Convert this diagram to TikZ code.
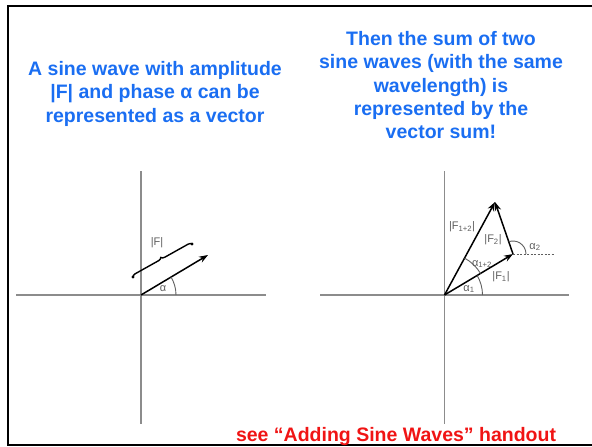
\documentclass[tikz,border=0pt]{standalone}
\usepackage{fontspec}
\setmainfont{Liberation Sans}
\usepackage{tikz}
\usetikzlibrary{arrows.meta,angles,calc,decorations.pathreplacing}
\definecolor{slideblue}{HTML}{1A6EF2}
\definecolor{slidered}{HTML}{F01414}
\definecolor{axisgray}{HTML}{8C8C8C}
\definecolor{labelgray}{HTML}{5E5E5E}

\begin{document}
\begin{tikzpicture}[
  x=1pt, y=1pt,
  title/.style={
    align=center,
    text=slideblue,
    inner sep=0pt,
    font=\fontsize{19.5}{23.4}\selectfont\bfseries
  },
  note/.style={
    text=slidered,
    inner sep=0pt,
    font=\fontsize{19.5}{23.4}\selectfont\bfseries
  },
  axis/.style={draw=axisgray, line width=1.7pt},
  vec/.style={-{Stealth[length=9pt,width=6.5pt]}, line width=1.5pt, draw=black},
  arcline/.style={draw=labelgray, line width=0.9pt},
  lbl/.style={text=labelgray, inner sep=0.5pt, font=\fontsize{11}{12}\selectfont}
]

\useasboundingbox (0,0) rectangle (592,-447);
\draw[line width=2pt] (8,-6) rectangle (600,-445);

% titles
\node[title, anchor=north] (single) at (155,-61) {A sine wave with amplitude\\|F| and phase α can be\\represented as a vector};
\node[title, anchor=north] (sum) at (441,-31) {Then the sum of two\\sine waves (with the same\\wavelength) is\\represented by the\\vector sum!};
\node[note, anchor=base] (handout) at (396,-441) {see “Adding Sine Waves” handout};

% one vector
\coordinate (O) at (141,-295);
\coordinate (F) at (208,-255);
\coordinate (Ox) at (266,-295);
\draw[axis] (141,-171) -- (141,-424);
\draw[axis] (16,-295) -- (Ox);
\draw[vec] (O) -- (F);
\pic[arcline, angle radius=35pt] {angle=Ox--O--F};
\node[lbl] (alpha) at (163,-289) {α};
\coordinate (brA) at (133,-277);
\coordinate (brB) at (192,-244);
\draw[decorate, decoration={brace, amplitude=3.5pt}, line width=1.4pt, line cap=round] (brA) -- (brB);
\fill (brA) circle (1.7pt) (brB) circle (1.7pt);
\node[lbl] (absF) at (157,-243) {|F|};

% vector sum
\coordinate (S) at (444.5,-295);
\coordinate (Sx) at (569,-295);
\coordinate (F1) at (513,-254);
\coordinate (F12) at (495,-202);
\coordinate (dot) at (555,-254);
\draw[axis] (444.5,-171) -- (444.5,-424);
\draw[axis] (320,-295) -- (Sx);
\draw[vec] (S) -- (F1);
\draw[vec] (F1) -- (F12);
\draw[vec] (S) -- (F12);
\draw[dashed, dash pattern=on 2pt off 1.5pt, line width=0.8pt, draw=labelgray] (F1) -- (dot);
\pic[arcline, angle radius=38pt] {angle=Sx--S--F1};
\pic[arcline, angle radius=42pt] {angle=F1--S--F12};
\pic[arcline, angle radius=13pt] {angle=dot--F1--F12};
\node[lbl] (alpha1) at (469,-289) {α\textsubscript{1}};
\node[lbl] (alpha12) at (482,-264) {α\textsubscript{1+2}};
\node[lbl] (alpha2) at (535,-247) {α\textsubscript{2}};
\node[lbl] (absF1) at (501,-277) {|F\textsubscript{1}|};
\node[lbl] (absF2) at (493,-240) {|F\textsubscript{2}|};
\node[lbl] (absF12) at (462,-227) {|F\textsubscript{1+2}|};

\end{tikzpicture}
\end{document}
